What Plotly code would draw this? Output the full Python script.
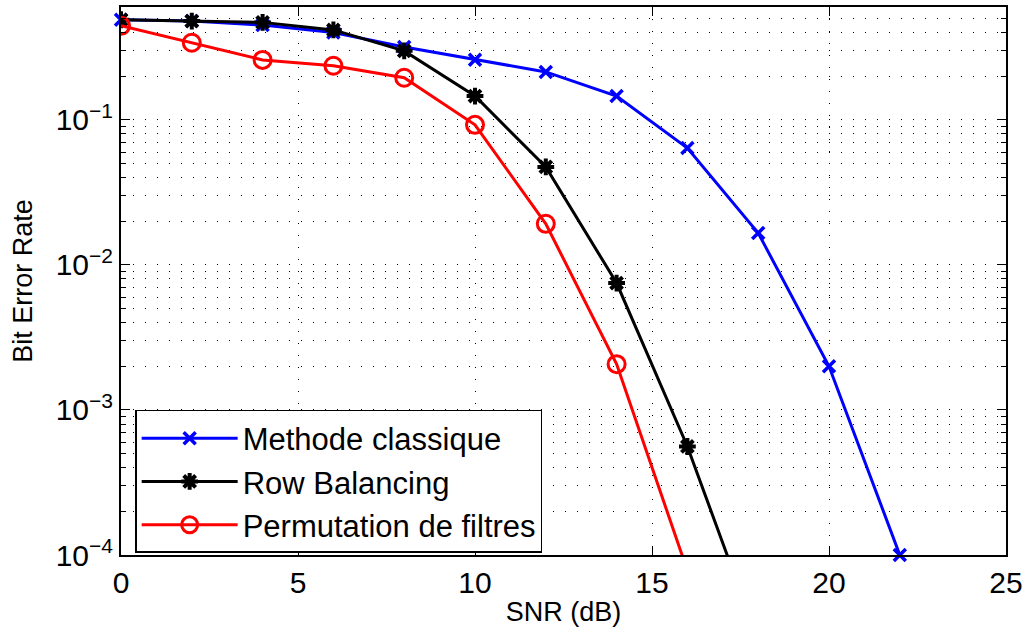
import numpy as np
import plotly.graph_objects as go

snr = [0, 2, 4, 6, 8, 10, 12, 14, 16, 18, 20, 22]
ber_classique = [0.49, 0.48, 0.45, 0.40, 0.318, 0.26, 0.214, 0.146, 0.064, 0.0166, 0.002, 0.0001]
snr_rb = [0, 2, 4, 6, 8, 10, 12, 14, 16, 18]
ber_rb = [0.49, 0.48, 0.47, 0.417, 0.299, 0.146, 0.0474, 0.0075, 0.00056, 0.000026]
snr_pf = [0, 2, 4, 6, 8, 10, 12, 14, 16]
ber_pf = [0.445, 0.34, 0.259, 0.236, 0.195, 0.0924, 0.0192, 0.00207, 0.000078]

names = ["Methode classique", "Row Balancing", "Permutation de filtres"]
colors = ["#0000ff", "#000000", "#ff0000"]

ymaj = [1e-4, 1e-3, 1e-2, 1e-1]
ymaj_txt = ["10<sup>\u22124</sup>", "10<sup>\u22123</sup>", "10<sup>\u22122</sup>", "10<sup>\u22121</sup>"]
yminor = [m * 10.0 ** e for e in range(-4, 0) for m in range(2, 10)]
yminor = [v for v in yminor if v <= 0.6]
xticks = [0, 5, 10, 15, 20, 25]

font = "Liberation Sans, Arial, Helvetica, sans-serif"

fig = go.Figure()
fig.add_trace(go.Scatter(x=snr, y=ber_classique, name=names[0], mode="lines+markers",
                         line=dict(color=colors[0], width=3),
                         marker=dict(symbol="x-thin-open", size=12, line=dict(color=colors[0], width=3.5)),
                         cliponaxis=False))
fig.add_trace(go.Scatter(x=snr_rb, y=ber_rb, name=names[1], mode="lines+markers",
                         line=dict(color=colors[1], width=3),
                         marker=dict(symbol="asterisk-open", size=14, line=dict(color=colors[1], width=4))))
fig.add_trace(go.Scatter(x=snr_pf, y=ber_pf, name=names[2], mode="lines+markers",
                         line=dict(color=colors[2], width=3),
                         marker=dict(symbol="circle-open", size=17, line=dict(color=colors[2], width=3))))

grid_dash = "1px,11px"
fig.update_layout(
    width=1031, height=634,
    margin=dict(l=121, r=25, t=7, b=79, autoexpand=False),
    paper_bgcolor="white", plot_bgcolor="white",
    font=dict(family=font, color="black"),
    showlegend=True,
    legend=dict(x=0.016, y=0.2646, xanchor="left", yanchor="top",
                bordercolor="black", borderwidth=1.5, bgcolor="white",
                font=dict(size=31, family=font), itemwidth=96,
                tracegroupgap=0),
)
fig.update_xaxes(
    range=[0, 25], tickvals=xticks, ticktext=[str(v) for v in xticks],
    tickfont=dict(size=30), ticks="inside", ticklen=9, tickwidth=1.2, tickcolor="black",
    showline=True, linecolor="black", linewidth=2, mirror="allticks",
    showgrid=True, gridcolor="black", gridwidth=1, griddash=grid_dash,
    zeroline=False, automargin=False,
    title=dict(text="SNR (dB)", font=dict(size=27), standoff=4),
)
fig.update_yaxes(
    type="log", range=[-4, np.log10(0.6)],
    tickvals=ymaj, ticktext=ymaj_txt,
    tickfont=dict(size=30), ticks="inside", ticklen=9, tickwidth=1.2, tickcolor="black",
    showline=True, linecolor="black", linewidth=2, mirror="allticks",
    showgrid=True, gridcolor="black", gridwidth=1, griddash=grid_dash,
    minor=dict(tickmode="array", tickvals=yminor, ticks="inside", ticklen=5, tickcolor="black",
               showgrid=True, gridcolor="black", gridwidth=1, griddash=grid_dash),
    zeroline=False, automargin=False,
    title=dict(text="Bit Error Rate", font=dict(size=27), standoff=15),
)

fig.write_html("out.html", config={"displayModeBar": False},
               post_script="document.body.style.margin='0px';")
